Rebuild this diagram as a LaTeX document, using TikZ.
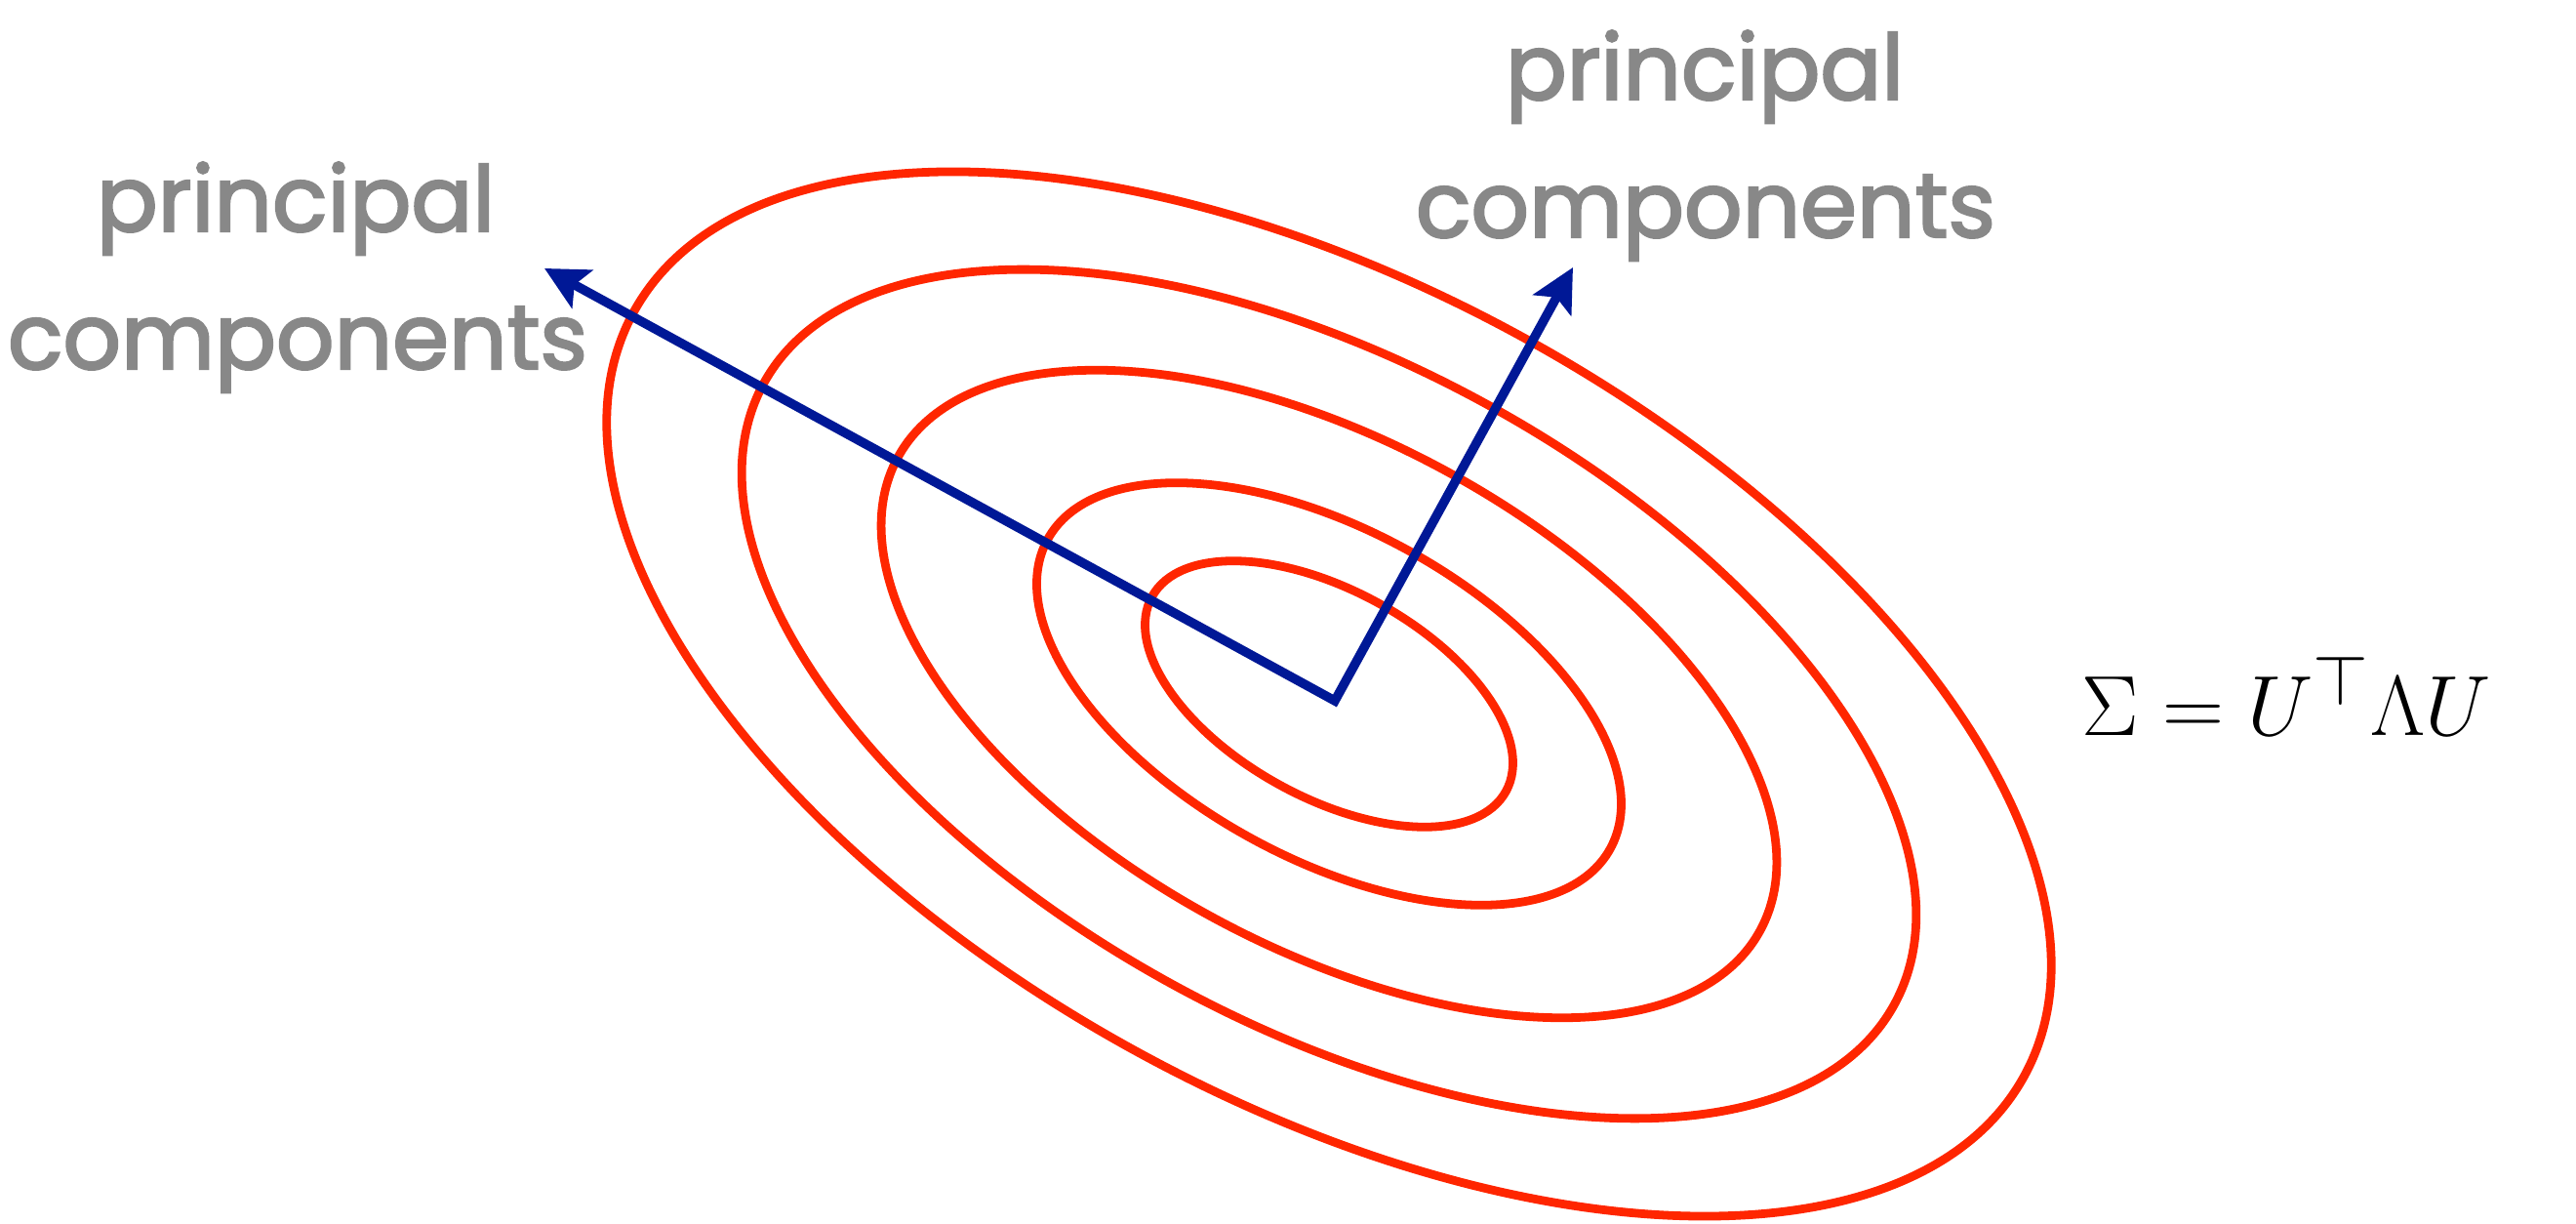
\documentclass[tikz,border=0pt]{standalone}
\usepackage{fontspec}
\newfontfamily\labelfont[FakeBold=2.5]{Poppins}
\usetikzlibrary{arrows.meta}
\definecolor{ellred}{RGB}{255,38,0}
\definecolor{pcblue}{RGB}{0,24,150}
\definecolor{lblgray}{RGB}{136,136,136}
\tikzset{
  contour/.style={draw=ellred, line width=2.5pt, rotate=-28.8},
  pcarrow/.style={draw=pcblue, line width=2.7pt, line join=miter,
    {Stealth[length=0.44cm, width=0.44cm, inset=0.09cm]}-{Stealth[length=0.44cm, width=0.44cm, inset=0.09cm]}},
  lbl/.style={text=lblgray, font=\labelfont\fontsize{26.5}{40}\selectfont, inner sep=0pt, anchor=base},
  formula/.style={font=\fontsize{28}{34}\selectfont, inner sep=0pt, anchor=base west}
}
\begin{document}
\begin{tikzpicture}
\useasboundingbox (0,0) rectangle (26.4,12.54);
\coordinate (C) at (13.62,5.43);
\draw[contour] (C) ellipse [x radius=8.13, y radius=4.16];
\draw[contour] (C) ellipse [x radius=6.61, y radius=3.38];
\draw[contour] (C) ellipse [x radius=5.04, y radius=2.58];
\draw[contour] (C) ellipse [x radius=3.29, y radius=1.68];
\draw[contour] (C) ellipse [x radius=2.07, y radius=1.06];
\coordinate (O) at (13.68,5.36);
\coordinate (L) at (5.58,9.79);
\coordinate (R) at (16.12,9.80);
\draw[pcarrow] (L) -- (O) -- (R);
\node[lbl] (lp) at (3.03,10.17) {principal};
\node[lbl] (lc) at (3.05,8.76) {components};
\node[lbl] (rp) at (17.47,11.52) {principal};
\node[lbl] (rc) at (17.48,10.11) {components};
\node[formula] (eq) at (21.33,5.00) {$\Sigma = U^\top \Lambda U$};
\end{tikzpicture}
\end{document}
